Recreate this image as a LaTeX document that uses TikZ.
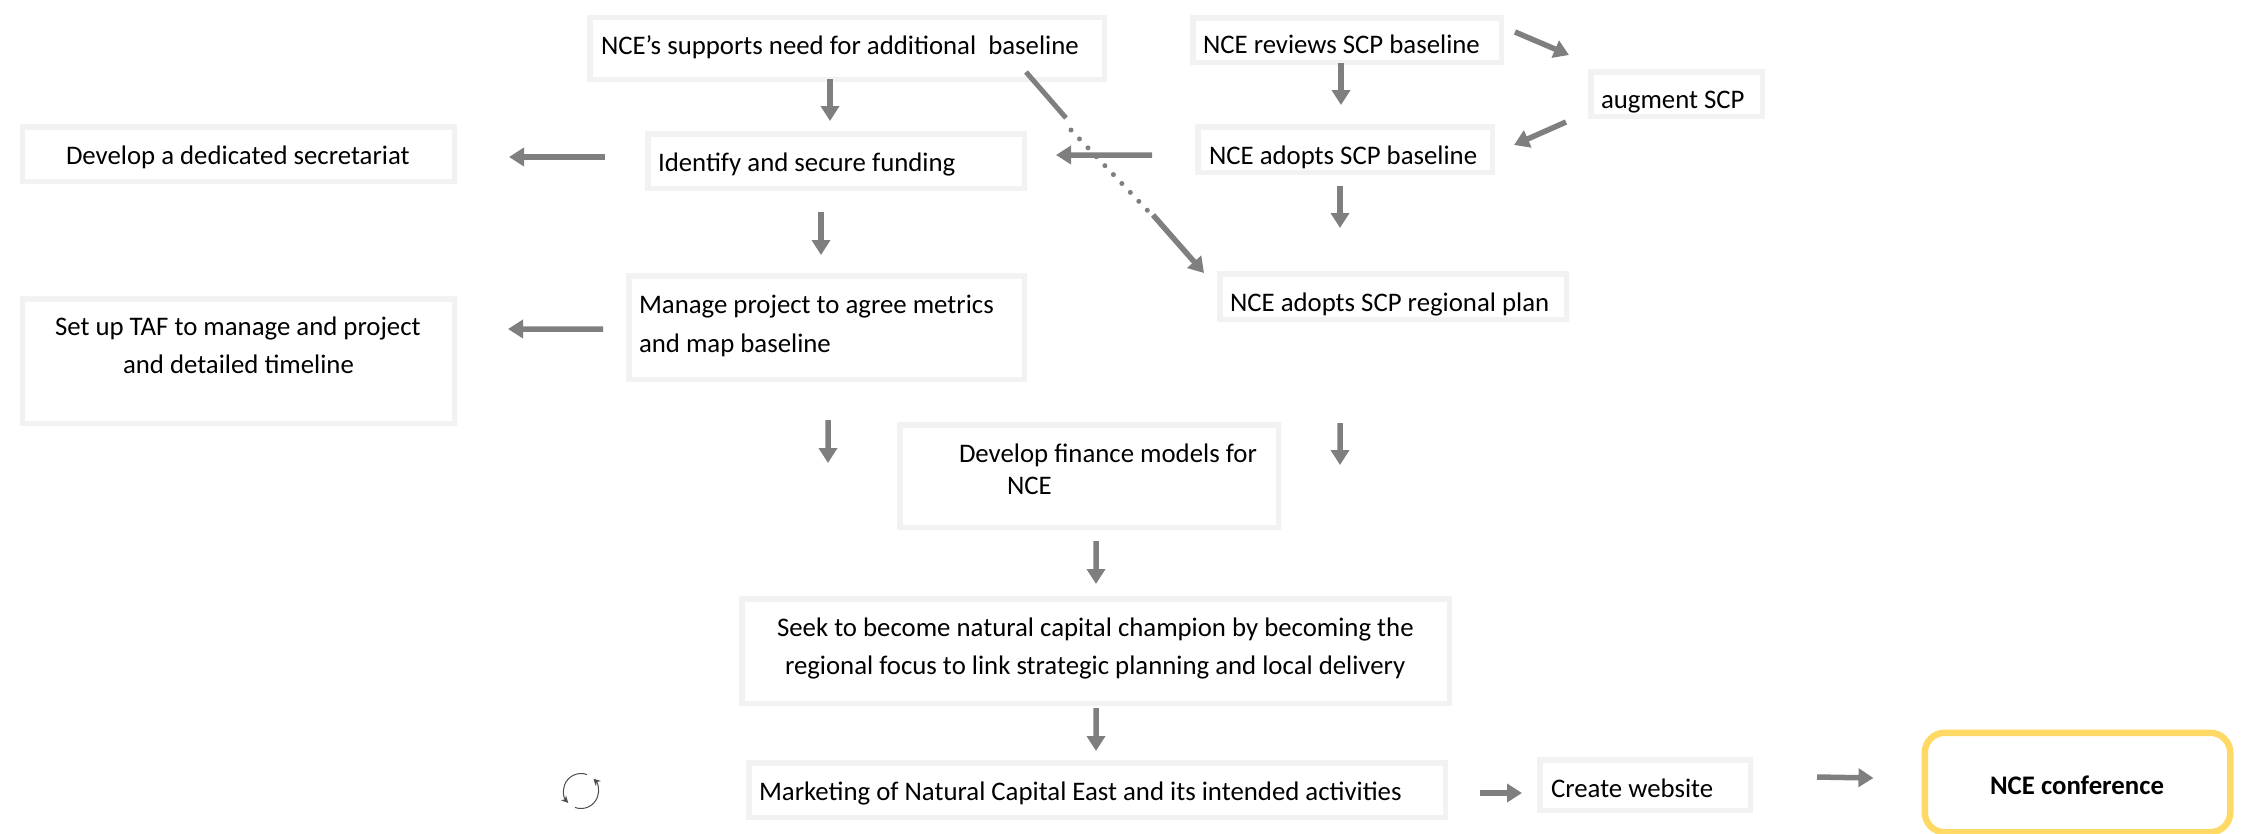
\documentclass[tikz,border=0pt]{standalone}
\usepackage{fontspec}
\setmainfont{Carlito}
\usetikzlibrary{arrows.meta,calc}
\definecolor{boxgray}{HTML}{F2F2F2}
\definecolor{arrgray}{HTML}{7F7F7F}
\definecolor{goldline}{HTML}{FFD966}
\tikzset{
  nbox/.style={draw=boxgray,line width=5.5bp,fill=white,rectangle,inner sep=0pt},
  goldbox/.style={draw=goldline,line width=6.5bp,fill=white,rectangle,rounded corners=20bp,inner sep=0pt},
  arr/.style={draw=arrgray,line width=5.5bp,-{Triangle[length=15bp,width=18bp]}},
  plainline/.style={draw=arrgray,line width=5bp},
  dotline/.style={draw=arrgray,line width=5bp,line cap=round,dash pattern=on 0bp off 12.3bp},
  loopline/.style={draw=black!70,line width=1bp,-{Stealth[length=7bp,width=7bp]}}
}
\newcommand\tline[3]{\makebox[0pt][l]{\kern\dimexpr#1bp-\cx bp\relax\raisebox{\dimexpr\cy bp-#2bp-1bp\relax}[0pt][0pt]{#3}}}
\newcommand\mybox[7][nbox]{%
  \pgfmathsetmacro\cx{(#3+#5)/2}%
  \pgfmathsetmacro\cy{(#4+#6)/2}%
  \pgfmathsetmacro\ww{#5-#3-5.5}%
  \pgfmathsetmacro\hh{#6-#4-5.5}%
  \node[#1,minimum width=\ww bp,minimum height=\hh bp] (#2) at (\cx,\cy) {#7};}
\begin{document}
\begin{tikzpicture}[x=1bp,y=-1bp,font=\fontsize{26.9}{32}\selectfont]
\useasboundingbox (0,0) rectangle (2241,833);
% boxes
\mybox{sup}{587}{15}{1107}{82}{\tline{601}{53}{NCE’s supports need for additional\ \ baseline}}
\mybox{sec}{20}{124}{457}{184}{\tline{66}{163}{Develop a dedicated secretariat}}
\mybox{fund}{645}{131}{1027}{191}{\tline{658}{170}{Identify and secure funding}}
\mybox{man}{626}{273}{1027}{382}{\tline{639}{312}{Manage project to agree metrics}\tline{639}{351}{and map baseline}}
\mybox{taf}{20}{296}{457}{426}{\tline{55}{334}{Set up TAF to manage and project}\tline{123}{372}{and detailed timeline}}
\mybox{rev}{1190}{15}{1504}{65}{\tline{1203}{52}{NCE reviews SCP baseline}}
\mybox{adopt}{1195}{124}{1495}{175}{\tline{1209}{163}{NCE adopts SCP baseline}}
\mybox{aug}{1588}{69}{1765}{119}{\tline{1601}{107}{augment SCP}}
\mybox{reg}{1217}{271}{1569}{322}{\tline{1230}{310}{NCE adopts SCP regional plan}}
\mybox{fin}{897}{422}{1281}{530}{\tline{959}{461}{Develop finance models for}\tline{1007}{493}{NCE}}
\mybox{seek}{739}{596}{1452}{706}{\tline{777}{635}{Seek to become natural capital champion by becoming the}\tline{785}{673}{regional focus to link strategic planning and local delivery}}
\mybox{mark}{746}{760}{1448}{820}{\tline{759}{799}{Marketing of Natural Capital East and its intended activities}}
\mybox{web}{1537}{757}{1753}{813}{\tline{1551}{796}{Create website}}
\mybox[goldbox]{conf}{1922}{730}{2233}{835}{\tline{1990}{793}{\textbf{NCE conference}}}
% connectors
\draw[arr] ($(sup.south)+(-17,-3)$) -- ($(fund.north)+(-6,-10)$);
\draw[arr] ($(fund.west)+(-40,-4)$) -- ($(sec.east)+(52,3)$);
\draw[arr] ($(fund.south)+(-15,21)$) -- ($(man.north)+(-5.5,-18)$);
\draw[arr] ($(man.west)+(-23,1.5)$) -- ($(taf.east)+(51,-32)$);
\draw[arr] ($(rev.south)+(-6,-2)$) -- ($(adopt.north)+(-4,-19)$);
\draw[arr] ($(adopt.west)+(-43,5.5)$) -- ($(fund.east)+(29,-6)$);
\draw[arr] ($(adopt.south)+(-5,11)$) -- ($(reg.north)+(-53,-43)$);
\draw[arr] ($(rev.east)+(11,-8)$) -- ($(aug.west)+(-19,-39)$);
\draw[arr] ($(aug.west)+(-22,28)$) -- ($(adopt.east)+(19,-4.5)$);
\draw[arr] ($(man.south)+(1.5,38)$) -- ($(fin.west)+(-69,-13)$);
\draw[arr] ($(reg.south)+(-53,101)$) -- ($(fin.east)+(59,-11)$);
\draw[arr] ($(fin.south)+(7,11)$) -- ($(seek.north)+(0.5,-12)$);
\draw[arr] ($(seek.south)+(0.5,2)$) -- ($(mark.north)+(-1,-9)$);
\draw[arr] ($(mark.east)+(32,3)$) -- ($(web.west)+(-15,8)$);
\draw[arr] ($(web.east)+(64,-8)$) -- ($(conf.west)+(-48,-4.5)$);
% dotted diagonal
\coordinate (diagA) at (1066,118);
\coordinate (diagB) at (1071,130);
\coordinate (diagC) at (1148,211);
\coordinate (diagD) at (1153,215);
\draw[plainline] ($(sup.south)+(179,-10)$) -- (diagA);
\draw[dotline] (diagB) -- (diagC);
\draw[arr] (diagD) -- ($(reg.west)+(-13,-23.5)$);
% loop icon
\coordinate (loopc) at (581,791);
\draw[loopline] ([shift={(70:17.5bp)}]loopc) arc [start angle=70,end angle=223,radius=17.5bp];
\draw[loopline] ([shift={(250:17.5bp)}]loopc) arc [start angle=250,end angle=405,radius=17.5bp];
\end{tikzpicture}
\end{document}
